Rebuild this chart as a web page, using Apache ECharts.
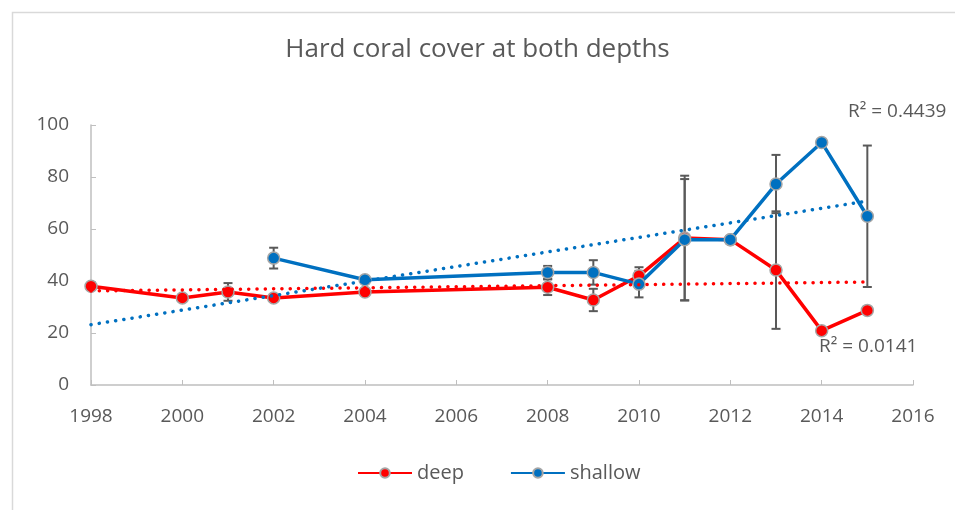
<!DOCTYPE html>
<html>
<head>
<meta charset="utf-8">
<script src="https://cdn.jsdelivr.net/npm/echarts@6/dist/echarts.min.js"></script>
<style>
  html, body { margin: 0; padding: 0; background: #ffffff; }
  #chart { width: 955px; height: 510px; }
</style>
</head>
<body>
<div id="chart"></div>
<script>
// Hard coral cover (%) by survey year, deep and shallow sites
const deepYears    = [1998, 2000, 2001, 2002, 2004, 2008, 2009, 2010, 2011, 2012, 2013, 2014, 2015];
const deepCover    = [38.0, 33.5, 35.8, 33.5, 35.8, 37.6, 32.7, 42.0, 56.5, 55.9, 44.2, 20.9, 28.7];
const deepError    = [null, null, 3.4, null, null, 3.0, 4.3, 3.3, 24.0, null, 22.6, null, null];

const shallowYears = [2002, 2004, 2008, 2009, 2010, 2011, 2012, 2013, 2014, 2015];
const shallowCover = [48.8, 40.5, 43.3, 43.3, 38.8, 55.9, 55.9, 77.3, 93.3, 64.9];
const shallowError = [4.0, null, 2.5, 4.7, 5.1, 23.3, null, 11.2, null, 27.2];

// Trend line span and the R² values reported for each fit
const trendSpan    = [1998, 2015];
const deepR2Text    = 'R² = 0.0141';
const shallowR2Text = 'R² = 0.4439';

const xTicks = { min: 1998, max: 2016, step: 2 };
const yTicks = { min: 0, max: 100, step: 20 };

const RED = '#ff0000';
const BLUE = '#0070c0';
const GREY_TEXT = '#595959';
const FONT = '"Open Sans", Lato, sans-serif';

// Least-squares line through (xs, ys), evaluated at the span ends
function linearTrend(xs, ys, span) {
  const n = xs.length;
  const mx = xs.reduce((a, b) => a + b, 0) / n;
  const my = ys.reduce((a, b) => a + b, 0) / n;
  let sxy = 0, sxx = 0;
  for (let i = 0; i < n; i++) {
    sxy += (xs[i] - mx) * (ys[i] - my);
    sxx += (xs[i] - mx) * (xs[i] - mx);
  }
  const slope = sxy / sxx;
  return span.map(x => [x, my + slope * (x - mx)]);
}

function pairs(xs, ys) { return xs.map((x, i) => [x, ys[i]]); }

function errorRows(xs, ys, es) {
  const rows = [];
  xs.forEach((x, i) => { if (es[i] != null) rows.push([x, ys[i] - es[i], ys[i] + es[i]]); });
  return rows;
}

function renderErrorBar(params, api) {
  const x = api.value(0);
  const lo = api.coord([x, api.value(1)]);
  const hi = api.coord([x, api.value(2)]);
  const half = 4.5;
  const style = { stroke: '#595959', lineWidth: 2 };
  return {
    type: 'group',
    children: [
      { type: 'line', shape: { x1: hi[0], y1: hi[1], x2: lo[0], y2: lo[1] }, style },
      { type: 'line', shape: { x1: hi[0] - half, y1: hi[1], x2: hi[0] + half, y2: hi[1] }, style },
      { type: 'line', shape: { x1: lo[0] - half, y1: lo[1], x2: lo[0] + half, y2: lo[1] }, style }
    ]
  };
}

const markerStyle = (color) => ({ color: color, borderColor: '#a6a6a6', borderWidth: 1.5 });
const dotted = (color) => ({ color: color, width: 3.5, type: [0.1, 8.2], cap: 'round' });

const chart = echarts.init(document.getElementById('chart'), null, { renderer: 'canvas' });

chart.setOption({
  animation: false,
  backgroundColor: '#ffffff',
  title: {
    text: 'Hard coral cover at both depths',
    left: 'center',
    top: 32,
    textStyle: { fontFamily: FONT, fontSize: 26, fontWeight: 'normal', color: GREY_TEXT }
  },
  legend: {
    bottom: 22,
    left: 352,
    itemWidth: 54,
    itemHeight: 12,
    itemGap: 46,
    data: ['deep', 'shallow'],
    textStyle: { fontFamily: FONT, fontSize: 20, color: GREY_TEXT }
  },
  grid: { left: 91, right: 42, top: 125, bottom: 125, containLabel: false },
  xAxis: {
    type: 'value',
    min: xTicks.min,
    max: xTicks.max,
    interval: xTicks.step,
    axisLine: { lineStyle: { color: '#bfbfbf', width: 1.5 } },
    axisTick: { show: true, inside: true, length: 5, lineStyle: { color: '#bfbfbf' } },
    splitLine: { show: false },
    axisLabel: { fontFamily: FONT, fontSize: 19, color: GREY_TEXT, margin: 22, formatter: (v) => String(v) }
  },
  yAxis: {
    type: 'value',
    min: yTicks.min,
    max: yTicks.max,
    interval: yTicks.step,
    axisLine: { show: true, lineStyle: { color: '#bfbfbf', width: 1.5 } },
    axisTick: { show: true, inside: true, length: 5, lineStyle: { color: '#bfbfbf' } },
    splitLine: { show: false },
    axisLabel: { fontFamily: FONT, fontSize: 19, color: GREY_TEXT, margin: 22 }
  },
  series: [
    {
      name: 'deep-error',
      type: 'custom',
      z: 1,
      renderItem: renderErrorBar,
      data: errorRows(deepYears, deepCover, deepError),
      encode: { x: 0, y: [1, 2] }
    },
    {
      name: 'shallow-error',
      type: 'custom',
      z: 1,
      renderItem: renderErrorBar,
      data: errorRows(shallowYears, shallowCover, shallowError),
      encode: { x: 0, y: [1, 2] }
    },
    {
      name: 'deep',
      type: 'line',
      z: 2,
      data: pairs(deepYears, deepCover),
      symbol: 'circle',
      symbolSize: 12,
      showAllSymbol: true,
      lineStyle: { color: RED, width: 3.5 },
      itemStyle: markerStyle(RED)
    },
    {
      name: 'shallow',
      type: 'line',
      z: 3,
      data: pairs(shallowYears, shallowCover),
      symbol: 'circle',
      symbolSize: 12,
      showAllSymbol: true,
      lineStyle: { color: BLUE, width: 3.5 },
      itemStyle: markerStyle(BLUE)
    },
    {
      name: 'deep-trend',
      type: 'line',
      z: 4,
      data: linearTrend(deepYears, deepCover, trendSpan),
      symbol: 'none',
      silent: true,
      lineStyle: dotted(RED)
    },
    {
      name: 'shallow-trend',
      type: 'line',
      z: 4,
      data: linearTrend(shallowYears, shallowCover, trendSpan),
      symbol: 'none',
      silent: true,
      lineStyle: dotted(BLUE)
    }
  ],
  graphic: [
    {
      type: 'rect',
      left: 10, top: 10,
      shape: { width: 1000, height: 600 },
      style: { fill: 'none', stroke: '#d9d9d9', lineWidth: 1.5 },
      silent: true
    },
    {
      type: 'text',
      left: 848, top: 102,
      style: { text: shallowR2Text, fontFamily: FONT, fontSize: 19, fill: GREY_TEXT }
    },
    {
      type: 'text',
      left: 819, top: 337,
      style: { text: deepR2Text, fontFamily: FONT, fontSize: 19, fill: GREY_TEXT }
    }
  ]
});
</script>
</body>
</html>
